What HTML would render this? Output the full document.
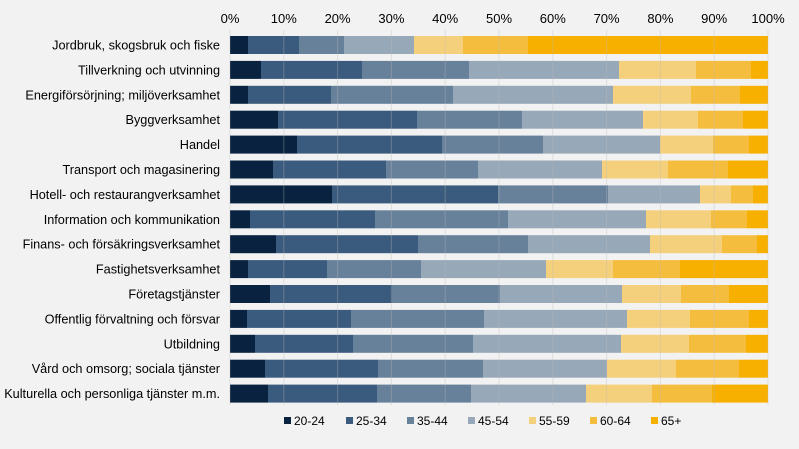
<!DOCTYPE html>
<html><head><meta charset="utf-8"><style>
body{margin:0;background:#f2f2f2;}
svg{display:block;font-family:"Liberation Sans",sans-serif;}
</style></head><body>
<svg width="799" height="449" xmlns="http://www.w3.org/2000/svg">
<rect width="799" height="449" fill="#f2f2f2"/>
<g id="bars"></g>
<g id="grid" stroke="#bbb" stroke-opacity="0.35" stroke-width="1"></g>
<g id="ticks" font-size="13" fill="#000" text-anchor="middle"></g>
<g id="labels" font-size="12.7" fill="#000" text-anchor="end"></g>
<g font-size="12" fill="#000">
<rect x="284" y="417" width="7" height="7" fill="#08223f"/><text x="294" y="425">20-24</text>
<rect x="346" y="417" width="7" height="7" fill="#3b5b7e"/><text x="356" y="425">25-34</text>
<rect x="407" y="417" width="7" height="7" fill="#68819b"/><text x="417" y="425">35-44</text>
<rect x="468" y="417" width="7" height="7" fill="#97a8b8"/><text x="478" y="425">45-54</text>
<rect x="529" y="417" width="7" height="7" fill="#f5d07c"/><text x="539" y="425">55-59</text>
<rect x="590" y="417" width="7" height="7" fill="#f5bd3e"/><text x="600" y="425">60-64</text>
<rect x="651" y="417" width="7" height="7" fill="#f8b000"/><text x="661" y="425">65+</text>
</g>
</svg>
<script>
const ns="http://www.w3.org/2000/svg";
const cols=["#08223f","#3b5b7e","#68819b","#97a8b8","#f5d07c","#f5bd3e","#f8b000"];
const names=["Jordbruk, skogsbruk och fiske","Tillverkning och utvinning","Energiförsörjning; miljöverksamhet","Byggverksamhet","Handel","Transport och magasinering","Hotell- och restaurangverksamhet","Information och kommunikation","Finans- och försäkringsverksamhet","Fastighetsverksamhet","Företagstjänster","Offentlig förvaltning och försvar","Utbildning","Vård och omsorg; sociala tjänster","Kulturella och personliga tjänster m.m."];
const b=[[248,299,344,414,463,528],[261,362,469,619,696,751],[248,331,453,613,691,740],[278,417,522,643,698,743],[297,442,543,660,713,749],[273,386,478,602,668,728],[332,498,608,700,731,753],[250,375,508,646,711,747],[276,418,528,650,722,757],[248,327,421,546,613,680],[270,392,500,622,681,729],[247,351,484,627,690,749],[255,353,473,621,689,746],[265,378,483,607,676,739],[268,377,471,586,652,712]];
const g=document.getElementById("bars"),L=document.getElementById("labels");
b.forEach((r,i)=>{const y=36+i*24.9;const e=[230,...r,768];
for(let k=0;k<7;k++){const R=document.createElementNS(ns,"rect");R.setAttribute("x",e[k]);R.setAttribute("y",y);R.setAttribute("width",e[k+1]-e[k]);R.setAttribute("height",18);R.setAttribute("fill",cols[k]);g.appendChild(R);}
const t=document.createElementNS(ns,"text");t.setAttribute("x",220);t.setAttribute("y",y+13.5);t.textContent=names[i];L.appendChild(t);});
const G=document.getElementById("grid"),T=document.getElementById("ticks");
for(let i=0;i<=10;i++){const x=230+i*53.8;const l=document.createElementNS(ns,"line");l.setAttribute("x1",x);l.setAttribute("x2",x);l.setAttribute("y1",30);l.setAttribute("y2",405);G.appendChild(l);
const t=document.createElementNS(ns,"text");t.setAttribute("x",x);t.setAttribute("y",23);t.textContent=(i*10)+"%";T.appendChild(t);}
</script>
</body></html>
